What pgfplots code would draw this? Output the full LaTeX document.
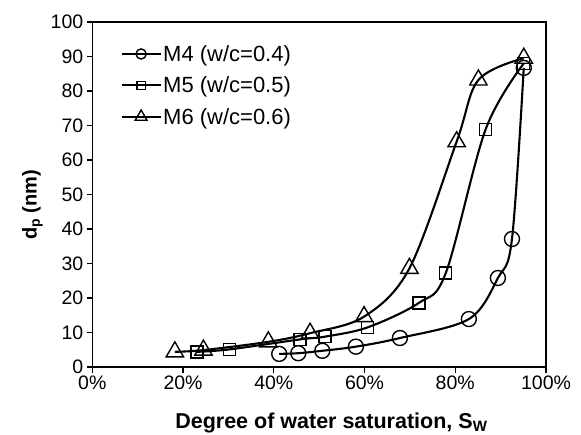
\documentclass[border=0pt]{standalone}
\usepackage{fontspec}
\setmainfont{Liberation Sans}
\usepackage{pgfplots}
\pgfplotsset{compat=1.18}
\begin{document}
\begin{tikzpicture}
\useasboundingbox (-92.3pt,-67pt) rectangle (488.7pt,367pt);
\begin{axis}[
  scale only axis,
  width=453.7pt, height=345pt,
  at={(0,0)}, anchor=south west,
  xmin=0, xmax=100, ymin=0, ymax=100,
  xtick={0,20,40,60,80,100},
  xticklabels={0\%,20\%,40\%,60\%,80\%,100\%},
  ytick={0,10,20,30,40,50,60,70,80,90,100},
  tick pos=left,
  tick align=outside,
  major tick length=5.5pt,
  axis line style={line width=1.3pt},
  every tick/.style={line width=1.1pt, black},
  /pgf/number format/assume math mode=true,
  tick label style={font=\fontsize{19.5}{21}\selectfont},
  xlabel={\textbf{Degree of water saturation, S\textsubscript{W}}},
  ylabel={\textbf{d\textsubscript{p} (nm)}},
  xlabel style={font=\fontsize{21.5}{24}\selectfont, at={(axis description cs:0.527,-0.177)}, anchor=base},
  ylabel style={font=\fontsize{20}{24}\selectfont, at={(axis description cs:-0.132,0.47)}, anchor=center},
  legend style={draw=none, fill=none, at={(axis description cs:0.063,0.939)}, anchor=north west,
    font=\fontsize{22}{25}\selectfont, row sep=10pt, inner sep=0pt,
    /tikz/every even column/.append style={column sep=3pt}},
  legend cell align=left,
  legend image code/.code={\draw[mark repeat=2,mark phase=2,every mark/.append style={scale=0.68}]
    plot coordinates {(0pt,0pt)(19pt,0pt)(38pt,0pt)};},
]
\addplot[black, line width=2.1pt, smooth, tension=0.55, mark=o, mark size=7.5pt,
  mark options={solid, line width=1.4pt, fill=none}] coordinates {
(41.2,3.8) (45.4,4.0) (50.7,4.7) (58.1,5.9) (67.8,8.4) (83.0,13.9) (89.4,25.8) (92.5,37.1) (95.1,86.7)};
\addlegendentry{M4 (w/c=0.4)}
\addplot[black, line width=2.1pt, smooth, tension=0.55, mark=square, mark size=6pt,
  mark options={solid, line width=1.4pt, fill=none}] coordinates {
(23.1,4.4) (30.2,5.1) (45.8,8.0) (51.3,8.8) (60.7,11.5) (72.0,18.6) (77.9,27.2) (86.7,68.9) (95.1,88.0)};
\addlegendentry{M5 (w/c=0.5)}
\addplot[black, line width=2.1pt, smooth, tension=0.55, mark=triangle, mark size=10pt,
  mark options={solid, line width=1.4pt, fill=none}] coordinates {
(18.2,4.4) (24.5,4.9) (38.8,7.3) (48.0,9.8) (59.9,14.6) (69.9,28.6) (80.3,65.3) (85.1,83.2) (95.1,89.5)};
\addlegendentry{M6 (w/c=0.6)}
\end{axis}
\end{tikzpicture}
\end{document}
